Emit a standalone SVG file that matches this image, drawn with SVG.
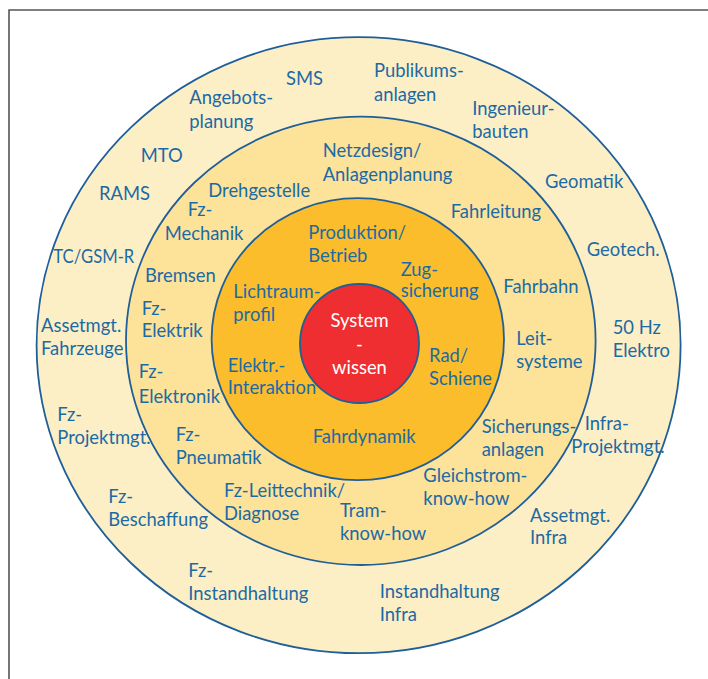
<svg xmlns="http://www.w3.org/2000/svg" width="708" height="679" viewBox="0 0 708 679">
  <style>
    .ring { stroke: #1e5f9a; stroke-width: 1.8; }
    .lbl { font-family: Lato, "Liberation Sans", sans-serif; font-size: 18.4px; fill: #1b6aa5; }
    .core { font-family: Lato, "Liberation Sans", sans-serif; font-size: 18.4px; fill: #ffffff; text-anchor: middle; }
  </style>
  <rect width="708" height="679" fill="#ffffff"/>
  <!-- frame -->
  <path d="M9 679 V10 H708" fill="none" stroke="#555555" stroke-width="1.6"/>

  <!-- rings -->
  <g id="rings">
    <ellipse class="ring" cx="358.6" cy="345.2" rx="322" ry="308" fill="#fdefc5"/>
    <ellipse class="ring" cx="360.8" cy="340.8" rx="234.8" ry="224.2" fill="#fde29a"/>
    <ellipse class="ring" cx="357.8" cy="339.2" rx="146.2" ry="141" fill="#fbbd2b"/>
    <circle class="ring" cx="359.5" cy="343.5" r="59.5" fill="#ee2e30"/>
  </g>

  <g id="connectors"></g>

  <!-- core -->
  <g id="systemwissen">
    <text class="core" x="359.5" y="326.7">System</text>
    <text class="core" x="359.5" y="350.5">-</text>
    <text class="core" x="359.5" y="374.3">wissen</text>
  </g>

  <!-- inner ring -->
  <g id="produktion"><text class="lbl" x="308.3" y="239.3">Produktion/</text><text class="lbl" x="308.3" y="261.7">Betrieb</text></g>
  <g id="zugsicherung"><text class="lbl" x="400.7" y="275.7">Zug-</text><text class="lbl" x="400.7" y="297.3">sicherung</text></g>
  <g id="lichtraum"><text class="lbl" x="233.3" y="297.7">Lichtraum-</text><text class="lbl" x="233.3" y="321">profil</text></g>
  <g id="radschiene"><text class="lbl" x="429" y="361.7">Rad/</text><text class="lbl" x="429" y="385">Schiene</text></g>
  <g id="elektr"><text class="lbl" x="227.7" y="371.7">Elektr.-</text><text class="lbl" x="227.7" y="394">Interaktion</text></g>
  <g id="fahrdynamik"><text class="lbl" x="312.7" y="442.7">Fahrdynamik</text></g>

  <!-- middle ring -->
  <g id="netzdesign"><text class="lbl" x="322.7" y="157">Netzdesign/</text><text class="lbl" x="322.7" y="181">Anlagenplanung</text></g>
  <g id="drehgestelle"><text class="lbl" x="208.3" y="196.7">Drehgestelle</text></g>
  <g id="fahrleitung"><text class="lbl" x="450.7" y="218.3">Fahrleitung</text></g>
  <g id="fzmechanik"><text class="lbl" x="187.7" y="216">Fz-</text><text class="lbl" x="164.7" y="240">Mechanik</text></g>
  <g id="bremsen"><text class="lbl" x="145" y="281.7">Bremsen</text></g>
  <g id="fahrbahn"><text class="lbl" x="503.3" y="292.7">Fahrbahn</text></g>
  <g id="fzelektrik"><text class="lbl" x="141.7" y="315">Fz-</text><text class="lbl" x="141.7" y="336.7">Elektrik</text></g>
  <g id="leitsysteme"><text class="lbl" x="516.3" y="345">Leit-</text><text class="lbl" x="516.3" y="368.3">systeme</text></g>
  <g id="fzelektronik"><text class="lbl" x="138.7" y="378.3">Fz-</text><text class="lbl" x="138.7" y="402.7">Elektronik</text></g>
  <g id="sicherungsanlagen"><text class="lbl" x="481.7" y="432.7">Sicherungs-</text><text class="lbl" x="481.7" y="456">anlagen</text></g>
  <g id="fzpneumatik"><text class="lbl" x="175.7" y="440.7">Fz-</text><text class="lbl" x="175.7" y="464">Pneumatik</text></g>
  <g id="gleichstrom"><text class="lbl" x="423.3" y="481.7">Gleichstrom-</text><text class="lbl" x="423.3" y="505">know-how</text></g>
  <g id="fzleittechnik"><text class="lbl" x="224" y="496.7">Fz-Leittechnik/</text><text class="lbl" x="224" y="520">Diagnose</text></g>
  <g id="tram"><text class="lbl" x="340" y="516.7">Tram-</text><text class="lbl" x="340" y="540">know-how</text></g>

  <!-- outer ring -->
  <g id="publikumsanlagen"><text class="lbl" x="374" y="77.3">Publikums-</text><text class="lbl" x="374" y="100.7">anlagen</text></g>
  <g id="sms"><text class="lbl" x="286" y="85.3">SMS</text></g>
  <g id="angebotsplanung"><text class="lbl" x="189.3" y="103.5">Angebots-</text><text class="lbl" x="189.3" y="127.6">planung</text></g>
  <g id="ingenieurbauten"><text class="lbl" x="472.3" y="115">Ingenieur-</text><text class="lbl" x="472.3" y="138.3">bauten</text></g>
  <g id="mto"><text class="lbl" x="140.7" y="162.3">MTO</text></g>
  <g id="geomatik"><text class="lbl" x="545" y="188.3">Geomatik</text></g>
  <g id="rams"><text class="lbl" x="99" y="200">RAMS</text></g>
  <g id="geotech"><text class="lbl" x="586.7" y="256">Geotech.</text></g>
  <g id="tcgsmr"><text class="lbl" x="53.3" y="263.3" textLength="81" lengthAdjust="spacingAndGlyphs">TC/GSM-R</text></g>
  <g id="assetfahrzeuge"><text class="lbl" x="41" y="331.7">Assetmgt.</text><text class="lbl" x="41" y="355">Fahrzeuge</text></g>
  <g id="elektro50"><text class="lbl" x="612.7" y="334">50 Hz</text><text class="lbl" x="612.7" y="357.3">Elektro</text></g>
  <g id="fzprojekt"><text class="lbl" x="57.3" y="421">Fz-</text><text class="lbl" x="57.3" y="444">Projektmgt.</text></g>
  <g id="infraprojekt"><text class="lbl" x="584.7" y="430">Infra-</text><text class="lbl" x="571.3" y="453.3">Projektmgt.</text></g>
  <g id="fzbeschaffung"><text class="lbl" x="108.3" y="502.7">Fz-</text><text class="lbl" x="108.3" y="526">Beschaffung</text></g>
  <g id="assetinfra"><text class="lbl" x="530" y="521.7">Assetmgt.</text><text class="lbl" x="530" y="544">Infra</text></g>
  <g id="fzinstandhaltung"><text class="lbl" x="188.3" y="576.7">Fz-</text><text class="lbl" x="188.3" y="600">Instandhaltung</text></g>
  <g id="instandhaltunginfra"><text class="lbl" x="379.7" y="598.3">Instandhaltung</text><text class="lbl" x="379.7" y="621">Infra</text></g>
</svg>
